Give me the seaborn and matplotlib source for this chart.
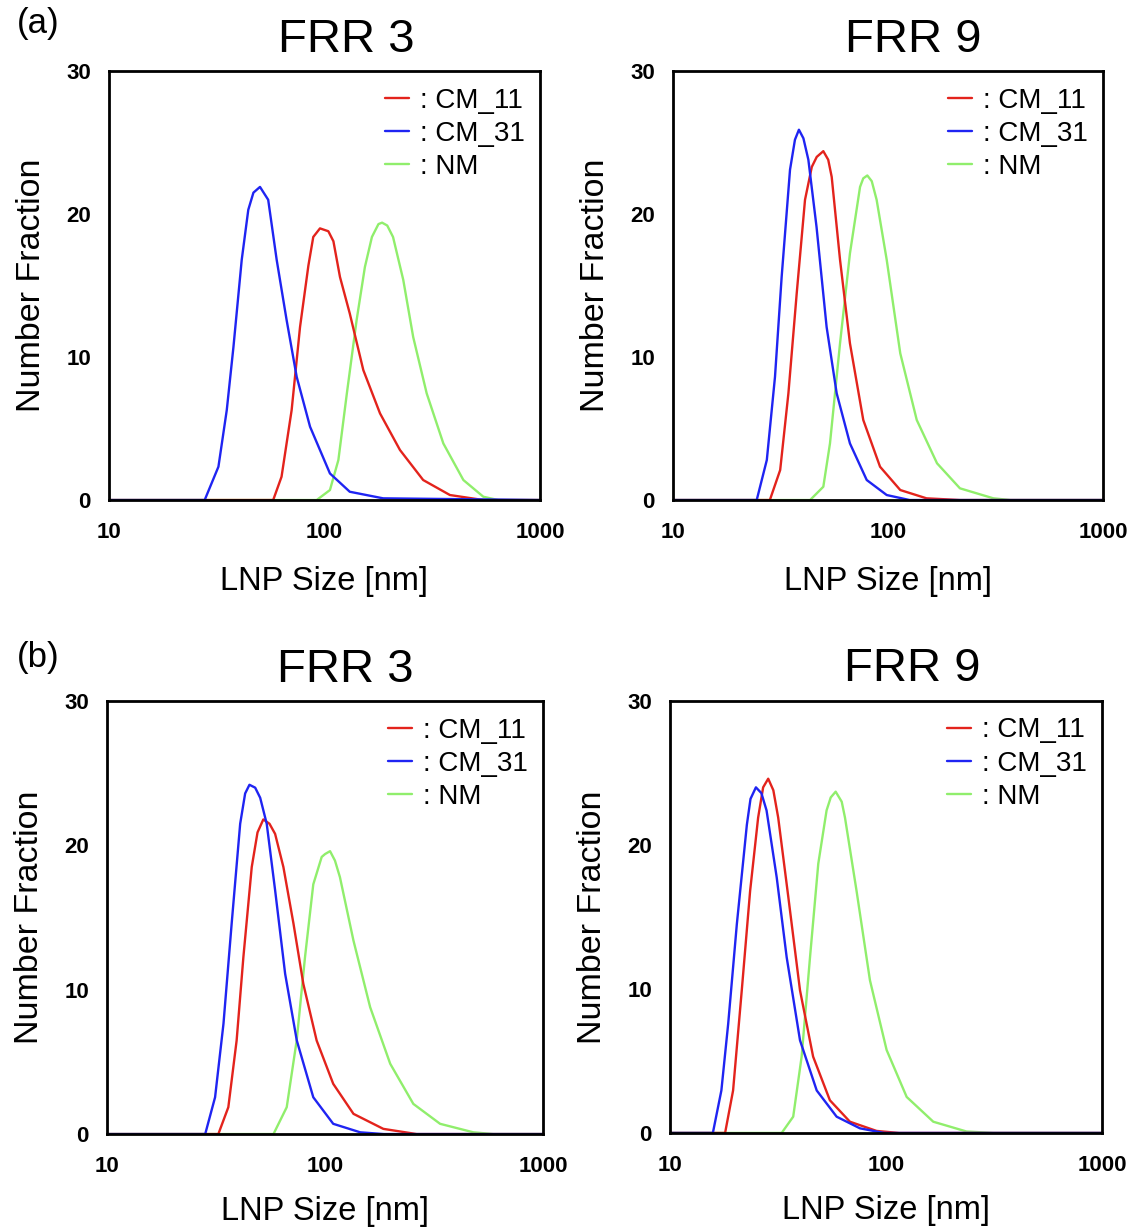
import matplotlib
matplotlib.use("Agg")
import matplotlib.pyplot as plt
import pandas as pd
import seaborn as sns

# ---- data (size in nm, number fraction in %) ----
samples = ["CM_11", "CM_31", "NM"]
colors = {"CM_11": "#e3231c", "CM_31": "#1f24f2", "NM": "#90ee6c"}

# (a) FRR 3
a3_cm11_x = [10, 57.8, 63.2, 70.4, 77.0, 84.2, 88.7, 95.3, 104.2, 110, 118, 131, 151.4, 181, 224, 287, 382, 546, 1000]
a3_cm11_y = [0, 0, 1.63, 6.29, 12.1, 16.4, 18.4, 19.0, 18.8, 18.1, 15.6, 13.05, 9.09, 6.06, 3.5, 1.40, 0.35, 0, 0]
a3_cm31_x = [10, 27.8, 32.2, 35.2, 37.8, 41.3, 44.3, 46.8, 50.2, 54.8, 60.0, 66.7, 74.3, 85.7, 106, 131, 187, 1000]
a3_cm31_y = [0, 0, 2.33, 6.29, 10.7, 16.8, 20.3, 21.5, 21.9, 21.0, 16.8, 12.6, 8.62, 5.13, 1.86, 0.58, 0.12, 0]
a3_nm_x = [10, 92, 106, 116, 127, 141, 154, 166, 178, 185, 195.5, 208, 232, 258, 298, 356, 441, 546, 640, 1000]
a3_nm_y = [0, 0, 0.70, 2.8, 7.46, 12.6, 16.3, 18.4, 19.3, 19.4, 19.2, 18.4, 15.4, 11.4, 7.46, 3.96, 1.40, 0.23, 0, 0]

# (a) FRR 9
a9_cm11_x = [10, 28.2, 31.5, 34.4, 37.6, 41.1, 44.2, 46.6, 50.0, 52.7, 54.7, 59.8, 66.5, 76.7, 91.8, 114, 151, 216, 1000]
a9_cm11_y = [0, 0, 2.1, 7.46, 14.45, 21.0, 23.3, 24.0, 24.4, 23.8, 22.6, 16.8, 10.96, 5.6, 2.33, 0.7, 0.12, 0, 0]
a9_cm31_x = [10, 24.5, 27.3, 29.8, 32.0, 35.0, 36.9, 38.5, 40.4, 42.6, 46.5, 51.8, 57.7, 66.5, 79.6, 98.6, 126, 1000]
a9_cm31_y = [0, 0, 2.8, 8.62, 15.6, 23.1, 25.2, 25.9, 25.3, 23.8, 19.1, 12.1, 7.46, 3.96, 1.4, 0.35, 0, 0]
a9_nm_x = [10, 43.4, 50.0, 53.7, 59.8, 66.5, 74.1, 76.7, 80.1, 84.0, 88.5, 98.6, 114, 136, 169, 216, 309, 371, 1000]
a9_nm_y = [0, 0, 0.93, 3.96, 10.96, 17.25, 21.9, 22.5, 22.7, 22.3, 21.0, 16.8, 10.26, 5.6, 2.57, 0.82, 0.12, 0, 0]

# (b) FRR 3
b3_cm11_x = [10, 32.4, 36.0, 39.3, 42.2, 46.1, 49.0, 52.1, 55.6, 59.0, 64.4, 71.6, 79.5, 91.5, 109, 135, 185, 263, 1000]
b3_cm11_y = [0, 0, 1.86, 6.48, 12.25, 18.5, 20.9, 21.8, 21.5, 20.8, 18.5, 14.6, 10.4, 6.48, 3.48, 1.4, 0.36, 0, 0]
b3_cm31_x = [10, 28.2, 31.3, 34.2, 37.3, 40.8, 43.0, 45.0, 47.8, 50.4, 54.0, 59.0, 65.6, 74.2, 88.3, 109, 145, 186, 1000]
b3_cm31_y = [0, 0, 2.55, 7.64, 14.6, 21.5, 23.6, 24.2, 24.0, 23.3, 21.5, 16.9, 11.1, 6.48, 2.55, 0.71, 0.12, 0, 0]
b3_nm_x = [10, 58.0, 66.7, 74.1, 80.9, 88.3, 96.5, 100, 105.4, 111, 117, 135, 161, 199, 254, 337, 479, 590, 1000]
b3_nm_y = [0, 0, 1.86, 6.48, 12.25, 17.3, 19.2, 19.4, 19.6, 18.95, 17.8, 13.4, 8.79, 4.87, 2.09, 0.71, 0.12, 0, 0]

# (b) FRR 9
b9_cm11_x = [10, 18.0, 19.6, 21.5, 23.5, 25.6, 27.0, 28.5, 30.1, 31.7, 35.3, 40.0, 46.0, 55.0, 68.1, 90.5, 115, 1000]
b9_cm11_y = [0, 0, 2.95, 9.9, 16.8, 21.9, 24.0, 24.6, 23.8, 21.9, 16.4, 9.9, 5.3, 2.27, 0.78, 0.14, 0, 0]
b9_cm31_x = [10, 15.8, 17.3, 18.6, 20.4, 22.7, 23.6, 25.0, 26.5, 28.0, 31.2, 34.7, 40.0, 47.8, 59.1, 75.8, 98, 1000]
b9_cm31_y = [0, 0, 2.95, 7.57, 14.5, 21.4, 23.2, 24.0, 23.6, 22.4, 17.75, 12.2, 6.43, 2.95, 1.13, 0.32, 0, 0]
b9_nm_x = [10, 32.9, 37.2, 40.7, 44.5, 48.6, 53.1, 55.5, 58.5, 62.4, 64.6, 73.1, 84.3, 100.7, 124.7, 165.6, 236, 315, 1000]
b9_nm_y = [0, 0, 1.13, 5.3, 12.2, 18.7, 22.4, 23.3, 23.7, 23.0, 21.9, 16.8, 10.6, 5.76, 2.5, 0.78, 0.1, 0, 0]

y_ticks = [0, 10, 20, 30]
x_ticks = [10, 100, 1000]
x_tick_labels = ["10", "100", "1000"]


def make_frame(series):
    rows = []
    for name, xs, ys in series:
        for x, y in zip(xs, ys):
            rows.append({"size": x, "frac": y, "sample": name})
    return pd.DataFrame(rows)


# title, axes rect (figure fraction), title x offset, xlabel pad, data
panels = [
    ("FRR 3", [0.0951, 0.5928, 0.3761, 0.3493], 0.551, 16.5,
     make_frame([("CM_11", a3_cm11_x, a3_cm11_y), ("CM_31", a3_cm31_x, a3_cm31_y), ("NM", a3_nm_x, a3_nm_y)])),
    ("FRR 9", [0.5873, 0.5928, 0.3752, 0.3493], 0.558, 16.5,
     make_frame([("CM_11", a9_cm11_x, a9_cm11_y), ("CM_31", a9_cm31_x, a9_cm31_y), ("NM", a9_nm_x, a9_nm_y)])),
    ("FRR 3", [0.0934, 0.0765, 0.3805, 0.3526], 0.546, 13.5,
     make_frame([("CM_11", b3_cm11_x, b3_cm11_y), ("CM_31", b3_cm31_x, b3_cm31_y), ("NM", b3_nm_x, b3_nm_y)])),
    ("FRR 9", [0.5846, 0.0774, 0.3770, 0.3518], 0.560, 13.5,
     make_frame([("CM_11", b9_cm11_x, b9_cm11_y), ("CM_31", b9_cm31_x, b9_cm31_y), ("NM", b9_nm_x, b9_nm_y)])),
]

sns.set_style("white")
plt.rcParams["font.family"] = ["Liberation Sans", "DejaVu Sans"]
plt.rcParams.update({"text.color": "black", "axes.labelcolor": "black",
                     "xtick.color": "black", "ytick.color": "black"})

fig = plt.figure(figsize=(11.46, 12.28), dpi=100)

for title, rect, tx, xpad, df in panels:
    ax = fig.add_axes(rect)
    # draw green, red, then blue so blue sits on top at the baseline
    for name in ["NM", "CM_11", "CM_31"]:
        sns.lineplot(data=df[df["sample"] == name], x="size", y="frac",
                     color=colors[name], lw=1.7, label=": " + name,
                     estimator=None, sort=False, ax=ax,
                     solid_joinstyle="round")
    ax.set_xscale("log")
    ax.set_xlim(10, 1000)
    ax.set_ylim(0, 30)
    ax.set_xticks(x_ticks)
    ax.set_xticklabels(x_tick_labels)
    ax.minorticks_off()
    ax.set_yticks(y_ticks)
    ax.tick_params(direction="in", length=5, width=1.2, labelsize=16)
    ax.tick_params(axis="x", pad=16)
    ax.tick_params(axis="y", pad=13)
    for lab in ax.get_xticklabels() + ax.get_yticklabels():
        lab.set_fontweight("bold")
    for sp in ax.spines.values():
        sp.set_visible(True)
        sp.set_color("black")
        sp.set_linewidth(2)
    ax.set_xlabel("LNP Size [nm]", fontsize=23.5, labelpad=xpad)
    ax.set_ylabel("Number Fraction", fontsize=24.5, labelpad=14)
    ax.set_title(title, fontsize=34, pad=14, x=tx)

    handles, labels = ax.get_legend_handles_labels()
    order = [labels.index(": " + s) for s in samples]
    ax.legend([handles[i] for i in order], [labels[i] for i in order],
              loc="upper right", bbox_to_anchor=(0.997, 0.994), frameon=False,
              fontsize=20, handlelength=0.85, handletextpad=0.4,
              labelspacing=0.26, borderpad=0.0)

fig.text(17 / 1146, 1 - 24 / 1228, "(a)", fontsize=25, va="center", ha="left")
fig.text(17 / 1146, 1 - 657 / 1228, "(b)", fontsize=25, va="center", ha="left")

fig.savefig("out.png", dpi=100)
